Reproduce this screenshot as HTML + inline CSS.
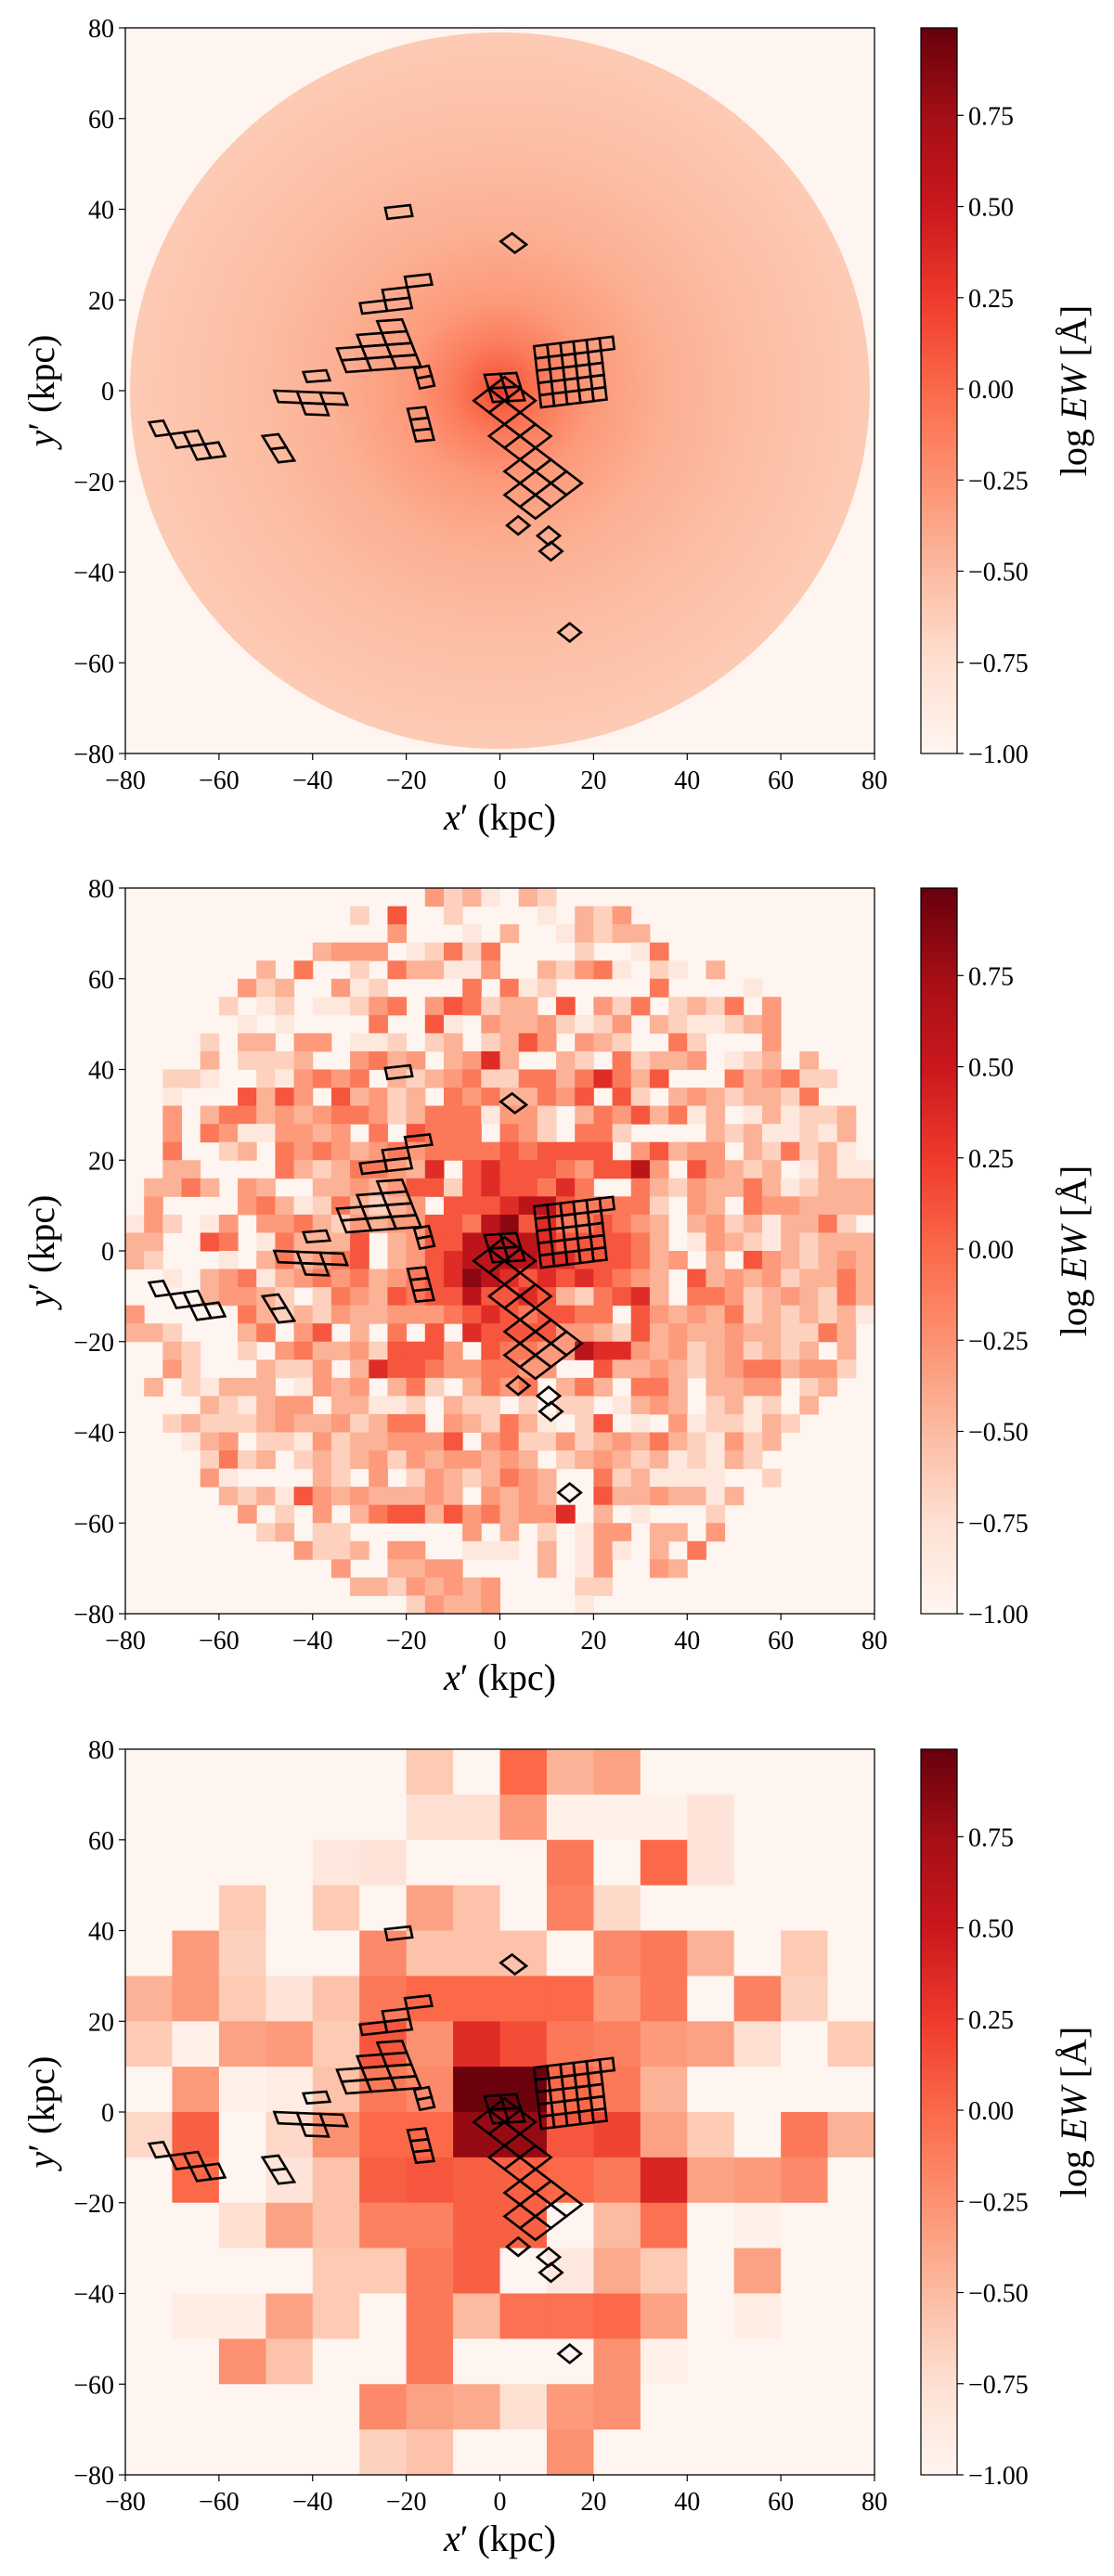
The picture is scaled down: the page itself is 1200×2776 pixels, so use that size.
<!DOCTYPE html>
<html><head><meta charset="utf-8">
<style>
html,body{margin:0;padding:0;background:#fff;}
svg{display:block;font-family:"Liberation Serif",serif;}
</style></head>
<body>
<svg id="fig" width="1200" height="2776" viewBox="0 0 1200 2776" xmlns="http://www.w3.org/2000/svg"></svg>
<script>
// ---------------- data ----------------
const xTicks = [-80,-60,-40,-20,0,20,40,60,80];
const yTicks = [-80,-60,-40,-20,0,20,40,60,80];
const cbTicks = [-1.00,-0.75,-0.50,-0.25,0.00,0.25,0.50,0.75];
const vMin = -1.0, vMax = 0.99;

// Panel 1: radial profile of mean log EW (radius kpc, value)
const p1Radius = [0,4,10,20,35,55,79];
const p1Value = [0.25,0.05,-0.12,-0.3,-0.43,-0.52,-0.6];

// Panel 2: 40x40 grid (4 kpc), level codes per row: [startCol, digits]
const p2Levels = [-1,-0.85,-0.65,-0.45,-0.3,-0.1,0.1,0.35,0.6,0.85];
const p2Rows = [
[16,"4231032"],[12,"206002000010324"],[14,"40001030013233"],[10,"3444012525000020015"],
[7,"3050020533114003245102103"],[6,"4230041200005051200000500001"],[5,"201201124504652330604250232504"],
[6,"10100005006104334212403211234"],[4,"2033044011202302364043200520004"],[4,"302223004534034730032052334012303"],
[2,"221002145450323452255357536000534522"],[2,"10006364063423054533546062034323325"],[2,"4035534345542355514420354635130131223"],
[2,"4054114434050655505420552000032311213"],[2,"5002305454345455556566660463440325231"],[2,"33000053235543706766654668406432301311"],
[1,"335304300334346626766575005324335312333"],[1,"400004531253234066678865555204305443333"],[0,"1420140445324344665896755654303423133520"],
[0,"3300650153336034668888766665301432132333"],[0,"3200010353456034678888776665340306432343"],[0,"0010345134545345679876767654306343423353"],
[0,"0000344320254365668667632567305542343253"],[0,"4000005323243344456765665506434352323231"],[0,"3320003504603050607666644326343343322530"],
[2,"3200204533426664065544877434234232303"],[2,"4200032240376654455440063343234553442"],[1,"3021333014340352035450353055303344023"],
[4,"321344033112032202022013430231203"],[2,"2322234334235504325310260104122132"],[3,"13402214233444604522423435321423"],
[4,"252302323424344343023432312132"],[4,"4100003204024323543005231111002"],[5,"3231643433343043430063343313"],
[6,"40204035663645344703010002"],[7,"2302200000040302014403304"],[9,"4223044001110301410305"],
[11,"4003344000030140043"],[12,"33243434000022"],[15,"24334000010"]
];

// Panel 3: 16x16 grid (10 kpc), rows from y=80 (top) downward, columns from x=-80
const p3Rows = [
[-1,-1,-1,-1,-1,-1,-0.6,-1,0.0,-0.45,-0.35,-1,-1,-1,-1,-1],
[-1,-1,-1,-1,-1,-1,-0.75,-0.75,-0.3,-0.95,-0.95,-0.95,-0.8,-1,-1,-1],
[-1,-1,-1,-1,-0.85,-0.8,-1,-1,-1,-0.1,-1,0.0,-0.8,-1,-1,-1],
[-1,-1,-0.6,-1,-0.6,-1,-0.35,-0.55,-1,-0.15,-0.7,-1,-1,-1,-1,-1],
[-1,-0.3,-0.65,-1,-1,-0.2,-0.55,-0.55,-0.55,-1,-0.2,-0.1,-0.45,-1,-0.6,-1],
[-0.45,-0.3,-0.6,-0.8,-0.55,-0.1,0.0,0.0,0.0,0.0,-0.3,-0.1,-1,-0.15,-0.65,-1],
[-0.6,-0.95,-0.35,-0.3,-0.6,0.1,-0.25,0.35,0.15,-0.1,-0.15,-0.3,-0.35,-0.75,-1,-0.6],
[-1,-0.3,-0.95,-0.9,-0.55,-0.1,-0.2,0.97,0.97,0.0,-0.1,-0.45,-1,-1,-1,-1],
[-0.7,0.05,-1,-0.7,-0.25,0.0,0.0,0.8,0.8,0.1,0.2,-0.35,-0.6,-1,-0.1,-0.45],
[-1,0.0,-1,-0.8,-0.55,0.05,0.1,0.05,0.05,0.0,-0.1,0.4,-0.35,-0.3,-0.2,-1],
[-1,-1,-0.75,-0.35,-0.55,-0.15,-0.15,0.05,0.05,-1,-0.5,-0.05,-1,-0.95,-1,-1],
[-1,-1,-1,-1,-0.6,-0.6,-0.1,0.05,-1,-0.85,-0.4,-0.6,-1,-0.35,-1,-1],
[-1,-0.9,-0.9,-0.35,-0.6,-1,-0.1,-0.5,-0.05,-0.05,0.0,-0.35,-1,-0.9,-1,-1],
[-1,-1,-0.25,-0.55,-1,-1,-0.1,-1,-1,-1,-0.25,-0.95,-1,-1,-1,-1],
[-1,-1,-1,-1,-1,-0.2,-0.35,-0.4,-0.75,-0.3,-0.25,-1,-1,-1,-1,-1],
[-1,-1,-1,-1,-1,-0.65,-0.55,-1,-1,-0.25,-1,-1,-1,-1,-1,-1]
];

// Footprints (data coords, kpc): origin, edge vectors, cell indices
const fpOrigins = [[-24.0,37.9],[0.15,32.9],[-29.4,17.0],[-32.8,4.1],[-17.1,0.5],[-41.2,1.9],[-47.3,-2.5],[-73.5,-10.0],[-47.3,-15.8],[-17.9,-11.2],[-1.5,-2.5],[8.8,-3.7],[-5.6,-2.2],[1.5,-29.7],[8.0,-32.0],[8.5,-35.4],[12.5,-53.3]];
const fpU = [[5.3,0.6],[2.45,1.8],[5.3,0.6],[5.3,0.4],[3.1,0.6],[4.9,0.4],[4.9,-0.2],[3.0,0.4],[3.4,0.4],[3.8,0.4],[3.4,0.2],[2.8,0.35],[3.3,2.6],[2.4,2.0],[2.4,2.0],[2.4,2.0],[2.4,2.0]];
const fpV = [[-0.5,2.4],[3.05,-2.5],[-0.5,2.3],[-1.0,2.6],[-0.6,2.2],[-0.8,2.2],[-0.9,2.5],[-1.4,3.0],[-1.7,2.9],[-0.6,2.4],[-0.9,3.0],[-0.3,2.7],[3.3,-2.6],[2.4,-2.0],[2.4,-2.0],[2.4,-2.0],[2.4,-2.0]];
const fpCells = [
[[0,0]],[[0,0]],[[0,0],[1,0],[1,1],[2,2]],
[[0,0],[1,0],[2,0],[0,1],[1,1],[2,1],[1,2],[2,2],[2,3]],
[[0,0],[0,1]],[[0,0]],[[0,0],[1,0],[2,0],[1,-1]],
[[0,0],[1,-1],[2,-1],[2,-2],[3,-2]],[[0,0],[0,1]],[[0,0],[0,1],[0,2]],
[[0,0],[1,0],[0,1],[1,1]],
[[0,0],[1,0],[2,0],[3,0],[4,0],[0,1],[1,1],[2,1],[3,1],[4,1],[0,2],[1,2],[2,2],[3,2],[4,2],[0,3],[1,3],[2,3],[3,3],[4,3],[0,4],[1,4],[2,4],[3,4],[4,4],[5,4]],
[[0,0],[1,0],[0,1],[1,1],[0,2],[-1,2],[-1,3],[0,3],[-1,4],[-2,4],[-1,5],[-2,5],[-3,5],[-2,6],[-3,6],[-1,6]],
[[0,0]],[[0,0]],[[0,0]],[[0,0]]
];

// ---------------- drawing ----------------
const NS = "http://www.w3.org/2000/svg";
const svg = document.getElementById('fig');
const X0 = 135, X1 = 942, H = 782;
const tops = [30, 957, 1885];
const CB0 = 992, CB1 = 1031;
const stops = ["#fff5f0","#fee0d2","#fcbba1","#fc9272","#fb6a4a","#ef3b2c","#cb181d","#a50f15","#67000d"];
function hex(h){return [parseInt(h.slice(1,3),16),parseInt(h.slice(3,5),16),parseInt(h.slice(5,7),16)];}
function cmap(v){
  let t=(v-vMin)/(vMax-vMin); t=Math.max(0,Math.min(1,t));
  const p=t*8, i=Math.min(7,Math.floor(p)), f=p-i;
  const a=hex(stops[i]), b=hex(stops[i+1]);
  return "rgb("+a.map((c,k)=>Math.round(c+(b[k]-c)*f)).join(",")+")";
}
function el(tag, attrs, parent){
  const e=document.createElementNS(NS,tag);
  for(const k in attrs) e.setAttribute(k,attrs[k]);
  (parent||svg).appendChild(e); return e;
}
const sx = v => X0 + (v+80)/160*(X1-X0);
const syF = top => v => top + (80-v)/160*H;

tops.forEach((top, pi) => {
  const sy = syF(top);
  const g = el('g', {});
  
  
  const cid = 'clip'+pi;
  const cp = el('clipPath', {id:cid}, g);
  el('rect', {x:X0,y:top,width:X1-X0,height:H}, cp);
  const bg = el('rect', {x:X0,y:top,width:X1-X0,height:H,fill:cmap(-1)}, g);
  
  
  const hm = el('g', {'clip-path':'url(#'+cid+')'}, g);
  
  
  if (pi === 0) {
    const rmax = p1Radius[p1Radius.length-1];
    const rg = el('radialGradient', {id:'rad0', cx:0.5, cy:0.5, r:0.5}, hm);
    p1Radius.forEach((r,i)=>el('stop', {offset:(r/rmax), 'stop-color':cmap(p1Value[i])}, rg));
    const c = el('ellipse', {cx:sx(0), cy:sy(0), rx:sx(rmax)-sx(0), ry:sy(0)-sy(rmax), fill:'url(#rad0)'}, hm);
    
    
  } else if (pi === 1) {
    const n = 40, d = 160/n;
    p2Rows.forEach((row, r) => {
      const [start, s] = row;
      for (let k=0; k<s.length; k++) {
        const lv = +s[k]; if (lv === 0) continue;
        const c = start + k;
        const xa = -80 + c*d, yb = 80 - r*d;
        const rc = el('rect', {x:sx(xa), y:sy(yb), width:sx(xa+d)-sx(xa)+0.5, height:sy(yb-d)-sy(yb)+0.5, fill:cmap(p2Levels[lv])}, hm);
        
        
      }
    });
  } else {
    const d = 10;
    p3Rows.forEach((row, r) => {
      row.forEach((val, c) => {
        const xa = -80 + c*d, yb = 80 - r*d;
        const rc = el('rect', {x:sx(xa), y:sy(yb), width:sx(xa+d)-sx(xa)+0.5, height:sy(yb-d)-sy(yb)+0.5, fill:cmap(val)}, hm);
        
        
      });
    });
  }
  // footprints
  const fg = el('g', {'clip-path':'url(#'+cid+')'}, g);
  
  
  fpOrigins.forEach((o, gi) => {
    const u = fpU[gi], v = fpV[gi];
    fpCells[gi].forEach(([i,j]) => {
      const px = o[0]+i*u[0]+j*v[0], py = o[1]+i*u[1]+j*v[1];
      const pts = [[px,py],[px+u[0],py+u[1]],[px+u[0]+v[0],py+u[1]+v[1]],[px+v[0],py+v[1]]]
        .map(p=>sx(p[0]).toFixed(1)+","+sy(p[1]).toFixed(1)).join(" ");
      const pg = el('polygon', {points:pts, fill:'none', stroke:'#000', 'stroke-width':2.6, 'stroke-linejoin':'miter'}, fg);
      
      
    });
  });
  // frame
  const fr = el('rect', {x:X0,y:top,width:X1-X0,height:H,fill:'none',stroke:'#000','stroke-width':1.3}, g);
  
  
  xTicks.forEach(t => {
    el('line', {x1:sx(t),x2:sx(t),y1:top+H,y2:top+H+7,stroke:'#000','stroke-width':1.2}, g);
    const tx = el('text', {x:sx(t), y:top+H+38, 'font-size':28, 'text-anchor':'middle'}, g);
    tx.textContent = (t<0?'\u2212':'')+Math.abs(t);
    
    
  });
  yTicks.forEach(t => {
    el('line', {x1:X0-7,x2:X0,y1:sy(t),y2:sy(t),stroke:'#000','stroke-width':1.2}, g);
    const tx = el('text', {x:X0-12, y:sy(t)+10, 'font-size':28, 'text-anchor':'end'}, g);
    tx.textContent = (t<0?'\u2212':'')+Math.abs(t);
    
    
  });
  const xl = el('text', {x:(X0+X1)/2, y:top+H+82, 'font-size':40, 'text-anchor':'middle'}, g);
  xl.innerHTML = '<tspan font-style="italic">x</tspan>\u2032 (kpc)';
  
  
  const yl = el('text', {x:0, y:0, 'font-size':40, 'text-anchor':'middle', transform:'translate(58,'+(top+H/2)+') rotate(-90)'}, g);
  yl.innerHTML = '<tspan font-style="italic">y</tspan>\u2032 (kpc)';
  
  
  // colorbar
  const cb = el('g', {}, g);
  
  
  const gid = 'grad'+pi;
  const lg = el('linearGradient', {id:gid, x1:0, y1:1, x2:0, y2:0}, cb);
  stops.forEach((s,i)=>el('stop', {offset:(i/8), 'stop-color':s}, lg));
  el('rect', {x:CB0,y:top,width:CB1-CB0,height:H,fill:'url(#'+gid+')',stroke:'#000','stroke-width':1.2}, cb);
  const cy = v => top + H - (v-vMin)/(vMax-vMin)*H;
  cbTicks.forEach(t => {
    el('line', {x1:CB1,x2:CB1+7,y1:cy(t),y2:cy(t),stroke:'#000','stroke-width':1.2}, cb);
    const tx = el('text', {x:CB1+12, y:cy(t)+10, 'font-size':28}, cb);
    tx.textContent = (t<0?'\u2212':'')+Math.abs(t).toFixed(2);
    
    
  });
  const cl = el('text', {x:0, y:0, 'font-size':40, 'text-anchor':'middle', transform:'translate(1170,'+(top+H/2)+') rotate(-90)'}, cb);
  cl.innerHTML = 'log <tspan font-style="italic">EW</tspan> [\u00C5]';
  
  
});
</script>
</body></html>
